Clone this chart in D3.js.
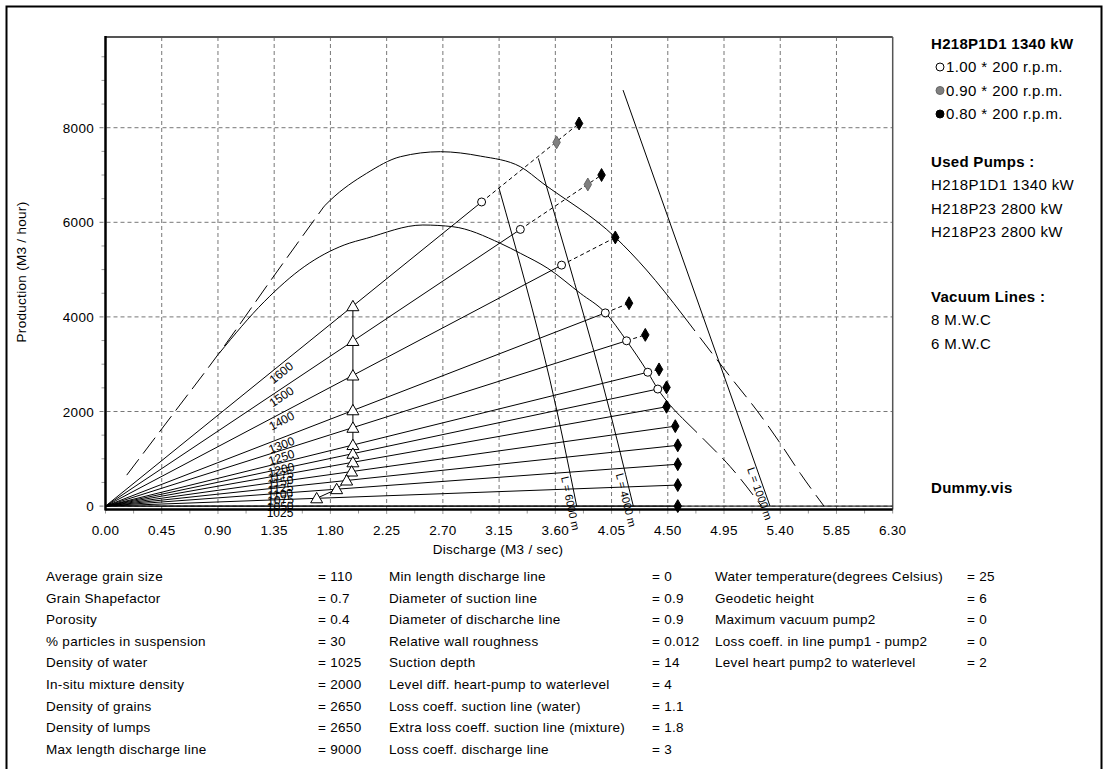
<!DOCTYPE html>
<html>
<head>
<meta charset="utf-8">
<script src="https://cdn.jsdelivr.net/npm/d3@7"></script>
<style>
  html, body { margin: 0; padding: 0; background: #fff; }
  svg text { font-family: "Liberation Sans", Arial, sans-serif; fill: #000; }
</style>
</head>
<body>
<svg id="chart" width="1108" height="769"></svg>
<script>
// ---- axis ticks ----
const xTickValues = [0, 0.45, 0.9, 1.35, 1.8, 2.25, 2.7, 3.15, 3.6, 4.05, 4.5, 4.95, 5.4, 5.85, 6.3];
const yTickValues = [0, 2000, 4000, 6000, 8000];

// ---- mixture density lines (kg/m3) ----
const densities = [1600, 1500, 1400, 1300, 1250, 1200, 1175, 1150, 1125, 1100, 1075, 1050, 1025];
// end point of each density line (0.80 * 200 r.p.m.)
const endQ = [3.79, 3.97, 4.08, 4.19, 4.32, 4.43, 4.49, 4.49, 4.56, 4.58, 4.58, 4.58, 4.58];
const endP = [8090, 7000, 5680, 4290, 3620, 2890, 2510, 2100, 1690, 1285, 885, 445, 0];
// operating points at 1.00 * 200 r.p.m.
const fullQ = [3.01, 3.32, 3.65, 4.00, 4.17, 4.34, 4.42];
const fullP = [6430, 5850, 5095, 4085, 3495, 2830, 2475];
// operating points at 0.90 * 200 r.p.m.
const midQ = [3.61, 3.86];
const midP = [7690, 6800];
// vacuum limit points (triangles)
const vacQ = [1.98, 1.98, 1.98, 1.98, 1.98, 1.98, 1.98, 1.98, 1.97, 1.93, 1.85, 1.69];
const vacP = [4225, 3490, 2760, 2025, 1655, 1290, 1105, 925, 730, 540, 357, 164];

// ---- vacuum lines ----
const vac8RiseQ = [0.17, 0.55, 0.91, 1.33, 1.75];
const vac8RiseP = [655, 1980, 3237, 4800, 6340];
const vac8MidQ = [1.75, 1.80, 2.09, 2.36, 2.68, 3.00, 3.32, 3.50, 4.08, 4.33, 4.62];
const vac8MidP = [6340, 6470, 7036, 7387, 7493, 7400, 7176, 6825, 5683, 4991, 4040];
const vac8FallQ = [4.62, 5.02, 5.21, 5.40, 5.56, 5.75];
const vac8FallP = [4040, 2666, 2032, 1328, 693, 0];

const vac6MidQ = [0.91, 1.27, 1.59, 1.91, 2.09, 2.54, 2.78, 3.16, 3.32, 3.54, 3.80, 4.00, 4.17, 4.34, 4.42, 4.52, 4.62];
const vac6MidP = [3231, 4321, 5061, 5520, 5662, 5943, 5907, 5556, 5345, 5027, 4499, 4089, 3497, 2829, 2476, 2130, 1850];
const vac6FallQ = [4.62, 4.80, 5.00, 5.25];
const vac6FallP = [1850, 1380, 833, 0];

// ---- discharge line length curves ----
const lengthLabels = ["L = 6000 m", "L = 4000 m", "L = 1000 m"];
const lengthQ = [
  [3.149, 3.557, 3.771],
  [3.464, 3.678, 3.971, 4.224],
  [4.142, 4.73, 5.318]
];
const lengthP = [
  [6723, 2664, 0],
  [7353, 5412, 2666, 0],
  [8795, 4400, 0]
];

// ---- legend and parameter table ----
const pumpTitle = "H218P1D1 1340 kW";
const speedLabels = ["1.00 * 200 r.p.m.", "0.90 * 200 r.p.m.", "0.80 * 200 r.p.m."];
const usedPumps = ["H218P1D1 1340 kW", "H218P23 2800 kW", "H218P23 2800 kW"];
const vacuumLines = ["8 M.W.C", "6 M.W.C"];
const fileName = "Dummy.vis";

const paramNames1 = ["Average grain size", "Grain Shapefactor", "Porosity", "% particles in suspension",
  "Density of water", "In-situ mixture density", "Density of grains", "Density of lumps", "Max length discharge line"];
const paramValues1 = ["110", "0.7", "0.4", "30", "1025", "2000", "2650", "2650", "9000"];
const paramNames2 = ["Min length discharge line", "Diameter of suction line", "Diameter of discharche line",
  "Relative wall roughness", "Suction depth", "Level diff. heart-pump to waterlevel",
  "Loss coeff. suction line (water)", "Extra loss coeff. suction line (mixture)", "Loss coeff. discharge line"];
const paramValues2 = ["0", "0.9", "0.9", "0.012", "14", "4", "1.1", "1.8", "3"];
const paramNames3 = ["Water temperature(degrees Celsius)", "Geodetic height", "Maximum vacuum pump2",
  "Loss coeff. in line pump1 - pump2", "Level heart pump2 to waterlevel"];
const paramValues3 = ["25", "6", "0", "0", "2"];

// ================= drawing =================
const svg = d3.select("#chart");
const plot = { left: 105.5, right: 892.7, top: 37, bottom: 509.5 };

const x = d3.scaleLinear().domain([0, 6.3]).range([plot.left, plot.right]);
const y = d3.scaleLinear().domain([-72, 9918]).range([plot.bottom, plot.top]);

// text helper: size / weight / spacing as inline style
const label = (parent, size, opts = {}) => {
  const t = parent.append("text").style("font-size", size + "px")
    .style("letter-spacing", (opts.spacing ?? 0.3) + "px");
  if (opts.bold) t.style("font-weight", "bold");
  return t;
};

// outer frame
svg.append("path")
  .attr("d", `M6.5,769 V6.5 H1101.5 V769`)
  .attr("fill", "none").attr("stroke", "#000").attr("stroke-width", 2);

svg.append("defs").append("clipPath").attr("id", "plotClip")
  .append("rect").attr("x", plot.left).attr("y", plot.top)
  .attr("width", plot.right - plot.left).attr("height", plot.bottom - plot.top);

// grid
const grid = svg.append("g");
xTickValues.slice(1, -1).forEach(v => {
  grid.append("line").attr("x1", x(v)).attr("x2", x(v)).attr("y1", plot.top).attr("y2", plot.bottom + 4)
    .attr("stroke", "#777").attr("stroke-dasharray", "4,3");
});
yTickValues.forEach(v => {
  grid.append("line").attr("x1", plot.left - 6).attr("x2", plot.right).attr("y1", y(v)).attr("y2", y(v))
    .attr("stroke", "#777").attr("stroke-dasharray", "4,3");
});

// minor ticks
d3.range(500, 9900, 500).filter(v => v % 2000 !== 0).forEach(v => {
  svg.append("line").attr("x1", plot.left - 4).attr("x2", plot.left).attr("y1", y(v)).attr("y2", y(v))
    .attr("stroke", "#999");
});
d3.range(0, 6.31, 0.225).forEach(v => {
  svg.append("line").attr("x1", x(v)).attr("x2", x(v)).attr("y1", plot.bottom).attr("y2", plot.bottom + 4)
    .attr("stroke", "#999");
});

// frame of the plot
svg.append("line").attr("x1", plot.left).attr("x2", plot.right).attr("y1", plot.top).attr("y2", plot.top)
  .attr("stroke", "#555").attr("stroke-width", 2);
svg.append("line").attr("x1", plot.right).attr("x2", plot.right).attr("y1", plot.top).attr("y2", plot.bottom)
  .attr("stroke", "#555").attr("stroke-width", 1.5);

// tick labels and axis titles
xTickValues.forEach(v => {
  label(svg, 13.5).attr("x", x(v)).attr("y", 535).attr("text-anchor", "middle").text(v.toFixed(2));
});
yTickValues.forEach(v => {
  label(svg, 13.5).attr("x", 94).attr("y", y(v) + 5).attr("text-anchor", "end").text(v);
});
label(svg, 13.5).attr("x", 498).attr("y", 554).attr("text-anchor", "middle").text("Discharge (M3 / sec)");
label(svg, 13.5).attr("transform", "translate(26,272) rotate(-90)").attr("text-anchor", "middle")
  .text("Production (M3 / hour)");

// ---- data layer ----
const g = svg.append("g").attr("clip-path", "url(#plotClip)");
const pts = (qs, ps) => qs.map((q, i) => [q, ps[i]]);
const straight = d3.line().x(d => x(d[0])).y(d => y(d[1]));
const smoothX = d3.line().x(d => x(d[0])).y(d => y(d[1])).curve(d3.curveMonotoneX);
const smoothY = d3.line().x(d => x(d[0])).y(d => y(d[1])).curve(d3.curveMonotoneY);
const stroke = (sel, dash) => { sel.attr("stroke", "#000").attr("fill", "none"); if (dash) sel.attr("stroke-dasharray", dash); return sel; };

// zero production line
stroke(g.append("path").attr("d", straight([[0, 0], [6.3, 0]])));

// vacuum lines
stroke(g.append("path").attr("d", smoothX(pts(vac8RiseQ, vac8RiseP))), "20,7");
stroke(g.append("path").attr("d", smoothX(pts(vac8MidQ, vac8MidP))));
stroke(g.append("path").attr("d", smoothX(pts(vac8FallQ, vac8FallP))), "20,8");
stroke(g.append("path").attr("d", smoothX(pts(vac6MidQ, vac6MidP))));
stroke(g.append("path").attr("d", smoothX(pts(vac6FallQ, vac6FallP))), "20,8");

// density lines: solid to the full-speed point, dashed beyond it
densities.forEach((d, i) => {
  const solidEnd = i < fullQ.length ? [fullQ[i], fullP[i]] : [endQ[i], endP[i]];
  stroke(g.append("path").attr("d", straight([[0, 0], solidEnd])));
  if (i < fullQ.length) {
    stroke(g.append("path").attr("d", straight([solidEnd, [endQ[i], endP[i]]])), "4,3");
  }
});

// discharge length curves
lengthQ.forEach((qs, k) => {
  stroke(g.append("path").attr("d", smoothY(pts(qs, lengthP[k]))));
});

// vacuum limit trace through the triangles
stroke(g.append("path").attr("d", straight(pts(vacQ, vacP))));

// markers
const sym = (type, size) => d3.symbol().type(type).size(size)();
vacQ.forEach((q, i) => {
  svg.append("path").attr("d", sym(d3.symbolTriangle, 62))
    .attr("transform", `translate(${x(q)},${y(vacP[i]) + 1})`)
    .attr("fill", "#fff").attr("stroke", "#000");
});
fullQ.forEach((q, i) => {
  svg.append("circle").attr("cx", x(q)).attr("cy", y(fullP[i])).attr("r", 4)
    .attr("fill", "#fff").attr("stroke", "#000");
});
midQ.forEach((q, i) => {
  svg.append("path").attr("d", sym(d3.symbolDiamond, 48))
    .attr("transform", `translate(${x(q)},${y(midP[i])})`)
    .attr("fill", "#808080").attr("stroke", "#666");
});
endQ.forEach((q, i) => {
  svg.append("path").attr("d", sym(d3.symbolDiamond, 48))
    .attr("transform", `translate(${x(q)},${y(endP[i])})`)
    .attr("fill", "#000").attr("stroke", "#000");
});

// density labels, drawn along each line
densities.forEach((d, i) => {
  const q0 = 1.29;
  const px = x(q0), py = y(endP[i] / endQ[i] * q0);
  const ang = Math.atan2(y(endP[i]) - y(0), x(endQ[i]) - x(0)) * 180 / Math.PI;
  label(svg, 12, { spacing: 0 }).attr("transform", `translate(${px},${py}) rotate(${ang})`)
    .attr("dy", "0.9em").text(d);
});

// length labels near the foot of each curve
const lengthLabelAt = [650, 720, 850];
lengthQ.forEach((qs, k) => {
  const ps = lengthP[k];
  const target = lengthLabelAt[k];
  let j = 0;
  while (j < ps.length - 2 && ps[j + 1] > target) j++;
  const t = (ps[j] - target) / (ps[j] - ps[j + 1]);
  const q = qs[j] + t * (qs[j + 1] - qs[j]);
  const ang = Math.atan2(y(ps[j + 1]) - y(ps[j]), x(qs[j + 1]) - x(qs[j])) * 180 / Math.PI;
  label(svg, 11, { spacing: 0 }).attr("transform", `translate(${x(q)},${y(target)}) rotate(${ang})`)
    .attr("dy", "0.85em").text(lengthLabels[k]);
});

// left / bottom axes on top
svg.append("line").attr("x1", plot.left).attr("x2", plot.left).attr("y1", plot.top - 1).attr("y2", plot.bottom + 1)
  .attr("stroke", "#000").attr("stroke-width", 2.5);
svg.append("line").attr("x1", plot.left).attr("x2", plot.right).attr("y1", plot.bottom).attr("y2", plot.bottom)
  .attr("stroke", "#000").attr("stroke-width", 2.5);

// ---- legend ----
const lg = svg.append("g");
const header = (txt, yy) => label(lg, 15, { bold: true, spacing: 0.3 }).attr("x", 931).attr("y", yy).text(txt);
const item = (txt, xx, yy) => label(lg, 15, { spacing: 0.4 }).attr("x", xx).attr("y", yy).text(txt);
header(pumpTitle, 49);
const speedFills = ["#fff", "#808080", "#000"];
speedLabels.forEach((s, i) => {
  const cy = 67 + i * 23.5;
  lg.append("circle").attr("cx", 940).attr("cy", cy).attr("r", 4)
    .attr("fill", speedFills[i]).attr("stroke", i === 1 ? "#666" : "#000");
  item(s, 946, cy + 5);
});
header("Used Pumps :", 167);
usedPumps.forEach((s, i) => item(s, 931, 190 + i * 23.5));
header("Vacuum Lines :", 302);
vacuumLines.forEach((s, i) => item(s, 931, 325 + i * 23.5));
header(fileName, 493);

// ---- parameter table ----
const tbl = svg.append("g");
const rowY = i => 581 + i * 21.6;
const columns = [
  { names: paramNames1, values: paramValues1, lx: 46, vx: 318 },
  { names: paramNames2, values: paramValues2, lx: 389, vx: 652 },
  { names: paramNames3, values: paramValues3, lx: 715, vx: 967 }
];
columns.forEach(c => {
  c.names.forEach((n, i) => {
    label(tbl, 13.5).attr("x", c.lx).attr("y", rowY(i)).text(n);
    label(tbl, 13.5).attr("x", c.vx).attr("y", rowY(i)).text("= " + c.values[i]);
  });
});
</script>
</body>
</html>
